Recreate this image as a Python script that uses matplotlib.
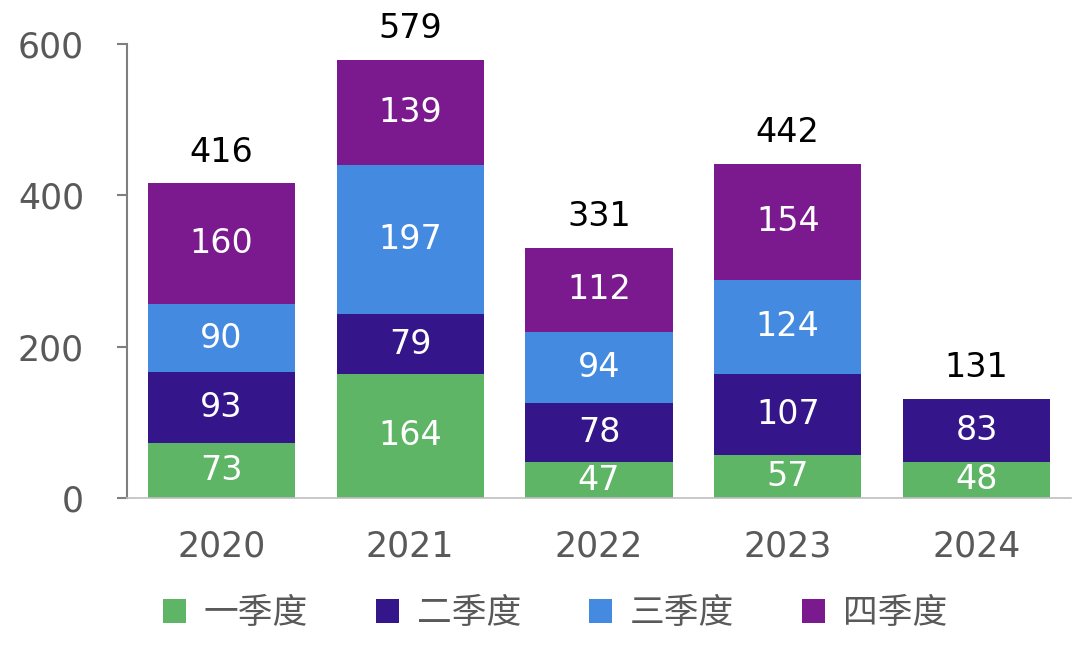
import matplotlib
matplotlib.use("Agg")
import matplotlib.pyplot as plt
from matplotlib.patches import Patch
import numpy as np

plt.rcParams['font.family'] = ['DejaVu Sans', 'Noto Sans CJK SC']

years = ["2020", "2021", "2022", "2023", "2024"]
series_names = ["一季度", "二季度", "三季度", "四季度"]
q1 = [73, 164, 47, 57, 48]
q2 = [93, 79, 78, 107, 83]
q3 = [90, 197, 94, 124, 0]
q4 = [160, 139, 112, 154, 0]
totals = [416, 579, 331, 442, 131]
colors = ["#5DB565", "#34158A", "#438AE0", "#7B1A8E"]
y_ticks = [0, 200, 400, 600]

fig = plt.figure(figsize=(10.8, 6.53), dpi=100)
ax = fig.add_axes([0.1176, 0.2374, 0.874, 0.6952])

x = np.arange(len(years))
bottom = np.zeros(len(years))
for vals, col in zip([q1, q2, q3, q4], colors):
    v = np.array(vals, dtype=float)
    ax.bar(x, v, width=0.78, bottom=bottom, color=col, zorder=2)
    for xi, b, val in zip(x, bottom, v):
        if val > 0:
            ax.text(xi, b + val / 2, f"{int(val)}", ha="center", va="center",
                    color="white", fontsize=24, zorder=3)
    bottom += v

for xi, t in zip(x, totals):
    ax.text(xi, t + 41, str(t), ha="center", va="center", color="black",
            fontsize=24, clip_on=False)

ax.set_xlim(-0.5, len(years) - 0.5)
ax.set_ylim(0, 600)
ax.set_yticks(y_ticks)
ax.set_xticks(x)
ax.set_xticklabels(years)
for s in ["top", "right"]:
    ax.spines[s].set_visible(False)
ax.spines["left"].set_color("#7f7f7f")
ax.spines["left"].set_linewidth(1.5)
ax.spines["bottom"].set_color("#bfbfbf")
ax.spines["bottom"].set_linewidth(1.2)
ax.tick_params(axis="y", length=7, width=1.5, color="#7f7f7f", pad=24,
               labelsize=25, labelcolor="#595959")
ax.tick_params(axis="x", length=0, pad=23, labelsize=25, labelcolor="#595959")

handles = [Patch(facecolor=c, edgecolor="none") for c in colors]
leg = fig.legend(handles, series_names, loc="center", bbox_to_anchor=(0.514, 0.060),
                 ncol=4, frameon=False, handlelength=0.66,
                 handleheight=0.66, handletextpad=0.52, columnspacing=1.96,
                 prop={'family': ['Noto Sans CJK SC'], 'size': 25})
for t in leg.get_texts():
    t.set_color("#595959")

fig.savefig("out.png", dpi=100)
